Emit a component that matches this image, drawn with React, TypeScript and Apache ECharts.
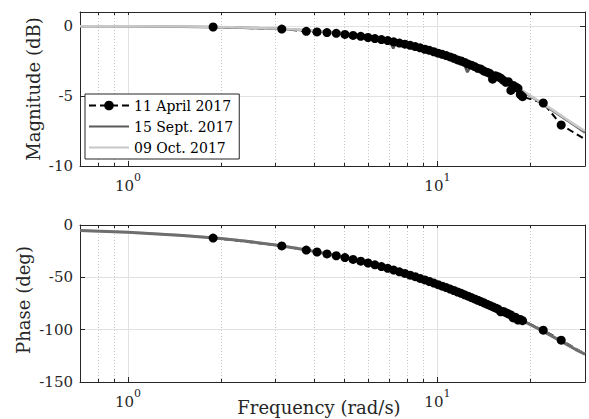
import { useEffect, useRef } from "react";
import * as echarts from "echarts";

// Measured points, 11 April 2017 (rad/s)
const aprilFreq = [
  1.885, 3.142, 3.770, 4.084, 4.398, 4.712, 5.027, 5.341, 5.655, 5.969, 6.283, 6.597, 6.912,
  7.226, 7.540, 7.854, 8.168, 8.482, 8.796, 9.111, 9.425, 9.739, 10.053, 10.367, 10.681,
  10.996, 11.310, 11.624, 11.938, 12.252, 12.566, 12.881, 13.195, 13.509, 13.823, 14.137,
  14.451, 14.765, 15.080, 15.394, 15.708, 16.022, 16.336, 16.650, 16.965, 17.279, 17.593,
  17.907, 18.221, 18.535, 18.850, 21.991, 25.133, 31.416,
];
const aprilMag = [
  -0.07, -0.22, -0.38, -0.42, -0.47, -0.52, -0.60, -0.67, -0.74, -0.82, -0.90, -0.97, -1.04,
  -1.13, -1.22, -1.30, -1.38, -1.47, -1.56, -1.66, -1.74, -1.84, -1.94, -2.02, -2.11,
  -2.21, -2.31, -2.42, -2.50, -2.60, -2.72, -2.80, -2.90, -3.02, -3.08, -3.22,
  -3.30, -3.38, -3.80, -3.55, -3.62, -3.72, -3.88, -4.02, -3.98, -4.60, -4.25,
  -4.35, -4.45, -4.90, -5.05, -5.50, -7.07, -8.35,
];
const aprilPhase = [
  -12.5, -20.0, -24.0, -25.8, -27.6, -29.4, -31.1, -32.9, -34.6, -36.3, -38.0, -39.7, -41.4,
  -43.1, -44.7, -46.3, -47.9, -49.4, -51.0, -52.5, -54.0, -55.5, -57.0, -58.4, -59.8,
  -61.2, -62.6, -64.0, -65.3, -66.7, -68.0, -69.3, -70.6, -71.9, -73.2, -74.4,
  -75.6, -76.8, -78.0, -79.2, -80.3, -83.0, -82.6, -83.8, -84.9, -86.0, -88.8,
  -88.2, -90.8, -90.3, -91.4, -100.5, -110.0, -126.5,
];

// 15 Sept. 2017 and 09 Oct. 2017 curves (rad/s)
const fitFreq = [
  0.7, 1, 1.5, 2, 2.5, 3, 3.5, 4, 4.5, 5, 5.55, 5.72, 5.9, 6.5, 7.0, 7.2, 7.4, 8, 9, 10, 11,
  12.1, 12.5, 12.9, 14, 15, 16, 17, 18, 19, 20, 22, 24, 26, 28, 30,
];
const septMag = [
  -0.01, -0.02, -0.05, -0.09, -0.14, -0.20, -0.27, -0.35, -0.44, -0.54, -0.66, -0.90, -0.74,
  -0.89, -1.01, -1.60, -1.12, -1.29, -1.58, -1.87, -2.18, -2.53, -3.30, -2.79, -3.14, -3.46,
  -3.78, -4.10, -4.41, -4.72, -5.02, -5.60, -6.15, -6.67, -7.15, -7.60,
];
const octMag = [
  -0.01, -0.02, -0.04, -0.08, -0.13, -0.18, -0.25, -0.33, -0.42, -0.51, -0.62, -0.66, -0.71,
  -0.85, -0.97, -1.02, -1.07, -1.24, -1.52, -1.81, -2.12, -2.47, -2.59, -2.72, -3.07, -3.40,
  -3.72, -4.04, -4.36, -4.67, -4.98, -5.56, -6.10, -6.62, -7.10, -7.50,
];
const septPhase = [
  -5.3, -7.0, -10.0, -13.0, -16.0, -19.2, -22.2, -25.2, -28.1, -30.9, -34.0, -34.9, -35.9,
  -39.1, -41.8, -42.9, -43.9, -46.9, -51.9, -56.7, -61.2, -66.0, -67.6, -69.3, -73.6, -77.4,
  -81.1, -84.7, -88.3, -91.8, -95.2, -101.6, -107.8, -113.6, -119.0, -123.5,
];
const octPhase = [
  -5.2, -6.9, -9.8, -12.8, -15.8, -19.0, -22.0, -25.0, -27.9, -30.7, -33.8, -34.7, -35.7,
  -38.9, -41.6, -42.6, -43.6, -46.6, -51.6, -56.4, -60.9, -65.7, -67.3, -69.0, -73.3, -77.1,
  -80.8, -84.4, -88.0, -91.5, -94.9, -101.3, -107.5, -113.3, -118.7, -123.2,
];

const seriesNames = ["11 April 2017", "15 Sept. 2017", "09 Oct. 2017"];
const majorX = [1, 10];
const minorX = [0.8, 0.9, 2, 3, 4, 5, 6, 7, 8, 9, 20];
const magTicks = [-10, -5, 0];
const phaseTicks = [-150, -100, -50, 0];
const xLimits = [0.7, 30];
const magLimits = [-10, 1];
const phaseLimits = [-150, 0];

const FONT = "DejaVu Serif";
const AX = "#262626";

function xAxesFor(gridIndex: number) {
  const base = { type: "log", logBase: 10, gridIndex, min: xLimits[0], max: xLimits[1] };
  return [
    {
      ...base,
      position: "bottom",
      axisLine: { show: true, onZero: false, lineStyle: { color: AX, width: 1 } },
      axisTick: { show: true, inside: true, length: 5, customValues: majorX, lineStyle: { color: AX } },
      axisLabel: {
        customValues: majorX,
        margin: 6,
        color: AX,
        fontFamily: FONT,
        formatter: (v: number) => `{b|10}{s|${Math.round(Math.log10(v))}}`,
        rich: {
          b: { fontFamily: FONT, fontSize: 15, color: AX, lineHeight: 21, verticalAlign: "bottom" },
          s: { fontFamily: FONT, fontSize: 11, color: AX, lineHeight: 11, verticalAlign: "top" },
        },
      },
      splitLine: { show: true, lineStyle: { color: "#e2e2e2", width: 1 } },
    },
    {
      ...base,
      position: "bottom",
      axisLine: { show: false, onZero: false },
      axisTick: { show: true, inside: true, length: 3, customValues: minorX, lineStyle: { color: AX } },
      axisLabel: { show: false },
      splitLine: { show: true, lineStyle: { color: "#c4c4c4", width: 1, type: [1, 2] } },
    },
    {
      ...base,
      position: "top",
      axisLine: { show: true, onZero: false, lineStyle: { color: AX, width: 1 } },
      axisTick: { show: true, inside: true, length: 3, customValues: [...minorX, ...majorX], lineStyle: { color: AX } },
      axisLabel: { show: false },
      splitLine: { show: false },
    },
  ];
}

function yAxesFor(gridIndex: number, lim: number[], ticks: number[], interval: number) {
  const base = { type: "value", gridIndex, min: lim[0], max: lim[1], interval };
  return [
    {
      ...base,
      position: "left",
      axisLine: { show: true, onZero: false, lineStyle: { color: AX, width: 1 } },
      axisTick: { show: true, inside: true, length: 5, customValues: ticks, lineStyle: { color: AX } },
      axisLabel: { customValues: ticks, fontFamily: FONT, fontSize: 15, color: AX, margin: 7 },
      splitLine: { show: true, lineStyle: { color: "#e2e2e2", width: 1 } },
    },
    {
      ...base,
      position: "right",
      axisLine: { show: true, onZero: false, lineStyle: { color: AX, width: 1 } },
      axisTick: { show: true, inside: true, length: 5, customValues: ticks, lineStyle: { color: AX } },
      axisLabel: { show: false },
      splitLine: { show: false },
    },
  ];
}

const pairs = (xs: number[], ys: number[]) => xs.map((x, i) => [x, ys[i]]);

export default function App() {
  const ref = useRef<HTMLDivElement>(null);
  useEffect(() => {
    if (!ref.current) return;
    const chart = echarts.init(ref.current, null, { renderer: "svg" });
    const aprilStyle = {
      type: "line",
      name: seriesNames[0],
      symbol: "circle",
      symbolSize: 9,
      showSymbol: true,
      clip: true,
      itemStyle: { color: "#000" },
      lineStyle: { color: "#000", width: 2, type: [7, 4] },
    };
    const septStyle = {
      type: "line",
      name: seriesNames[1],
      symbol: "none",
      clip: true,
      itemStyle: { color: "#5a5a5a" },
      lineStyle: { color: "#5a5a5a", width: 2.5 },
    };
    const octStyle = {
      type: "line",
      name: seriesNames[2],
      symbol: "none",
      clip: true,
      itemStyle: { color: "#c8c8c8" },
      lineStyle: { color: "#c8c8c8", width: 2.5 },
    };
    chart.setOption({
      animation: false,
      backgroundColor: "#fff",
      textStyle: { fontFamily: FONT },
      grid: [
        { left: 80, right: 4, top: 12, height: 154 },
        { left: 80, right: 4, top: 225, height: 157 },
      ],
      xAxis: [...xAxesFor(0), ...xAxesFor(1)],
      yAxis: [
        ...yAxesFor(0, magLimits, magTicks, 5),
        ...yAxesFor(1, phaseLimits, phaseTicks, 50),
      ],
      legend: {
        data: [
          { name: seriesNames[0] },
          { name: seriesNames[1], itemStyle: { opacity: 0 } },
          { name: seriesNames[2], itemStyle: { opacity: 0 } },
        ],
        orient: "vertical",
        left: 85,
        top: 94,
        itemWidth: 40,
        itemHeight: 12,
        itemGap: 4,
        padding: [3, 6, 3, 3],
        backgroundColor: "#fff",
        borderColor: AX,
        borderWidth: 1,
        selectedMode: false,
        textStyle: { fontFamily: FONT, fontSize: 14, lineHeight: 17, color: "#000" },
      },
      graphic: [
        {
          type: "text",
          x: 33,
          y: 89,
          rotation: Math.PI / 2,
          style: { text: "Magnitude (dB)", fontFamily: FONT, fontSize: 18, fill: AX, align: "center", verticalAlign: "middle" },
        },
        {
          type: "text",
          x: 23,
          y: 300,
          rotation: Math.PI / 2,
          style: { text: "Phase (deg)", fontFamily: FONT, fontSize: 18, fill: AX, align: "center", verticalAlign: "middle" },
        },
        {
          type: "text",
          x: 319,
          y: 407,
          style: { text: "Frequency (rad/s)", fontFamily: FONT, fontSize: 18, fill: AX, align: "center", verticalAlign: "middle" },
        },
      ],
      series: [
        { ...aprilStyle, xAxisIndex: 0, yAxisIndex: 0, data: pairs(aprilFreq, aprilMag) },
        { ...septStyle, xAxisIndex: 0, yAxisIndex: 0, data: pairs(fitFreq, septMag) },
        { ...octStyle, xAxisIndex: 0, yAxisIndex: 0, data: pairs(fitFreq, octMag) },
        { ...aprilStyle, xAxisIndex: 3, yAxisIndex: 2, data: pairs(aprilFreq, aprilPhase) },
        { ...octStyle, xAxisIndex: 3, yAxisIndex: 2, data: pairs(fitFreq, octPhase) },
        { ...septStyle, xAxisIndex: 3, yAxisIndex: 2, lineStyle: { color: "#6e6e6e", width: 3 }, data: pairs(fitFreq, septPhase) },
      ],
    });
    return () => chart.dispose();
  }, []);
  return (
    <div
      ref={ref}
      style={{ position: "fixed", left: 0, top: 0, width: 589, height: 419, background: "#fff" }}
    />
  );
}
